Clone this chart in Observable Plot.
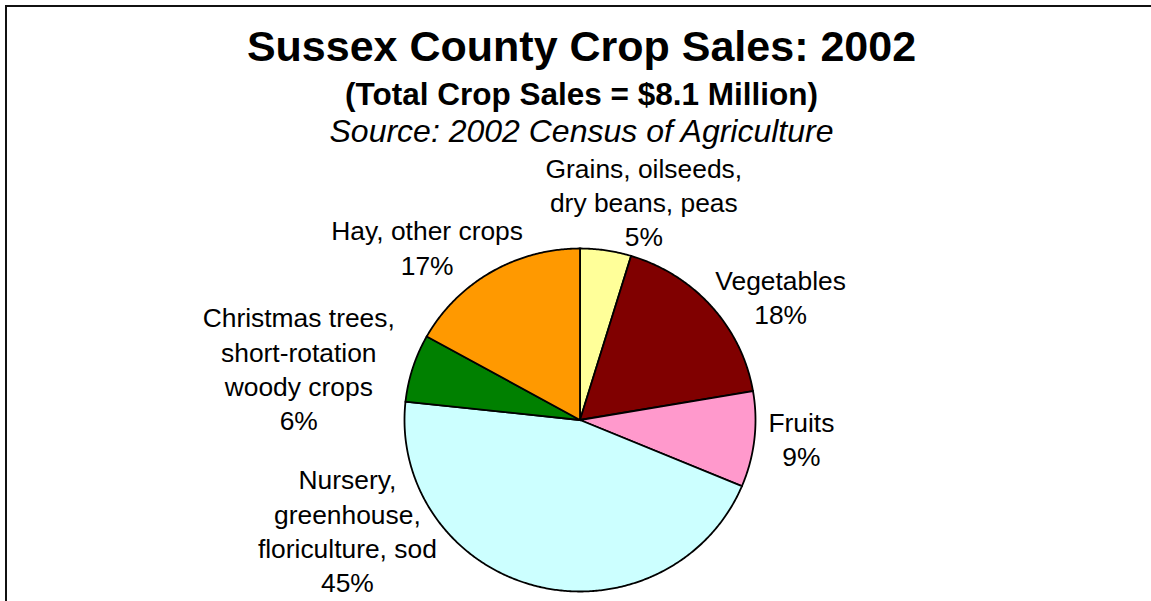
<!DOCTYPE html>
<html>
<head>
<meta charset="utf-8">
<script src="https://cdn.jsdelivr.net/npm/d3@7"></script>
<script src="https://cdn.jsdelivr.net/npm/@observablehq/plot@0.6"></script>
<style>
  body { margin: 0; background: #fff; }
  #wrap { position: relative; width: 1151px; height: 601px; overflow: hidden; background: #fff;
          font-family: "Liberation Sans", Arial, sans-serif; color: #000; }
  #head { position: relative; height: 148px; }
  .t { position: absolute; left: 0; width: 1163px; text-align: center; line-height: 1.15; white-space: nowrap; }
  #frame { position: absolute; left: 5px; top: 5px; right: -10px; bottom: -10px;
           border-top: 2px solid #111; border-left: 2px solid #111; pointer-events: none; z-index: 5; }
</style>
</head>
<body>
<div id="wrap">
  <div id="head">
    <div class="t" id="title" style="top:21.5px;font-size:43px;font-weight:bold;"></div>
    <div class="t" id="subtitle" style="top:76px;font-size:31.5px;font-weight:bold;"></div>
    <div class="t" id="source" style="top:113px;font-size:32px;font-style:italic;"></div>
  </div>
  <div id="chart"></div>
  <div id="frame"></div>
</div>
<script>
// ---- data ----
const titleText = "Sussex County Crop Sales: 2002";
const subtitleText = "(Total Crop Sales = $8.1 Million)";
const sourceText = "Source: 2002 Census of Agriculture";

const categories = [
  "Grains, oilseeds,\ndry beans, peas",
  "Vegetables",
  "Fruits",
  "Nursery,\ngreenhouse,\nfloriculture, sod",
  "Christmas trees,\nshort-rotation\nwoody crops",
  "Hay, other crops"
];
const shares = [4.7, 17.6, 9.0, 45.4, 6.4, 16.9]; // percent of total crop sales
const colors = ["#FFFF99", "#800000", "#FF99CC", "#CCFFFF", "#008000", "#FF9900"];

// ---- layout (label nudges in px from the slice's rim midpoint) ----
const labelNudge = [
  [38, -97], [69, -41], [47, -32], [-189, -121], [-114, -65], [-64, -56]
];

document.getElementById("title").textContent = titleText;
document.getElementById("subtitle").textContent = subtitleText;
document.getElementById("source").textContent = sourceText;

// ---- geometry from values ----
const total = d3.sum(shares);
const cum = d3.cumsum(shares);
const slices = categories.map((name, i) => {
  const a0 = ((cum[i] - shares[i]) / total) * 2 * Math.PI;
  const a1 = (cum[i] / total) * 2 * Math.PI;
  return {name, i, color: colors[i], value: shares[i], a0, a1, mid: (a0 + a1) / 2};
});
const polys = [];
for (const s of slices) {
  polys.push({name: s.name, color: s.color, x: 0, y: 0});
  const n = Math.max(2, Math.ceil((s.a1 - s.a0) / (Math.PI / 360)));
  for (let k = 0; k <= n; ++k) {
    const a = s.a0 + (s.a1 - s.a0) * (k / n);
    polys.push({name: s.name, color: s.color, x: Math.sin(a), y: Math.cos(a)});
  }
}

const font = "'Liberation Sans', Arial, sans-serif";
const labelMarks = slices.map((s, i) =>
  Plot.text([s], {
    x: d => Math.sin(d.mid),
    y: d => Math.cos(d.mid),
    text: d => `${d.name}\n${Math.round(d.value)}%`,
    textAnchor: "middle",
    lineAnchor: "top",
    lineHeight: 1.3,
    fontSize: 26.4,
    fontFamily: font,
    fill: "#000",
    dx: labelNudge[i][0],
    dy: labelNudge[i][1]
  })
);

const chart = Plot.plot({
  width: 1151,
  height: 453,
  marginLeft: 404,
  marginRight: 396,
  marginTop: 100,
  marginBottom: 10,
  x: {domain: [-1, 1], axis: null},
  y: {domain: [-1, 1], axis: null},
  color: {type: "identity"},
  style: {fontFamily: font, background: "transparent", overflow: "visible"},
  marks: [
    Plot.line(polys, {
      x: "x", y: "y", z: "name", fill: "color",
      stroke: "#000", strokeWidth: 1.8, curve: "linear-closed",
      strokeLinejoin: "miter", strokeMiterlimit: 4
    }),
    ...labelMarks
  ]
});
document.getElementById("chart").appendChild(chart);
</script>
</body>
</html>
